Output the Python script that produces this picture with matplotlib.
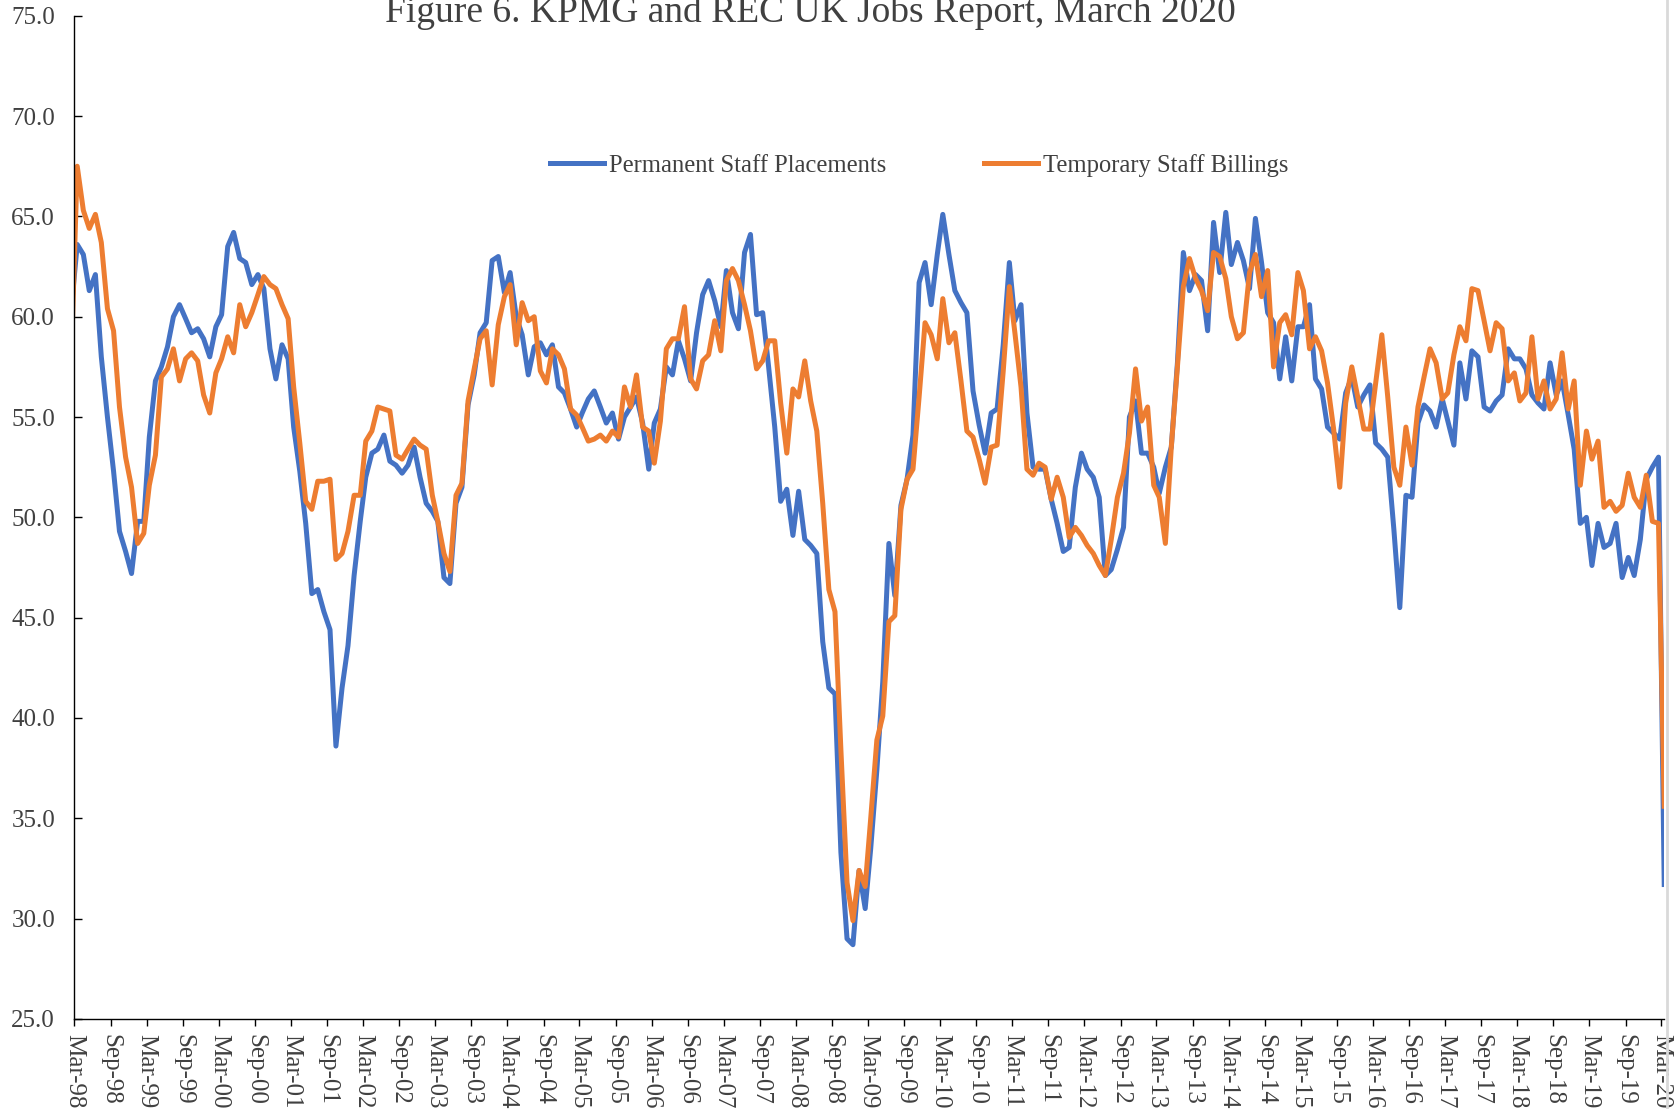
import matplotlib
matplotlib.use("Agg")
import matplotlib.pyplot as plt
from matplotlib.lines import Line2D
import pandas as pd

# monthly index readings, Feb-98 .. Mar-20 (first point falls just left of the axis)
first_month = "1998-02-01"

permanent = [
    60.6,
    63.6, 63.1, 61.3, 62.1, 58.0, 55.0, 52.3, 49.3, 48.3, 47.2, 49.8, 49.8,   # 1998-99
    54.0, 56.8, 57.5, 58.5, 60.0, 60.6, 59.9, 59.2, 59.4, 58.9, 58.0, 59.5,
    60.1, 63.5, 64.2, 62.9, 62.7, 61.6, 62.1, 61.4, 58.4, 56.9, 58.6, 57.9,
    54.5, 52.3, 49.7, 46.2, 46.4, 45.3, 44.4, 38.6, 41.5, 43.6, 47.1, 49.8,
    52.0, 53.2, 53.4, 54.1, 52.8, 52.6, 52.2, 52.6, 53.5, 52.0, 50.7, 50.3,
    49.8, 47.0, 46.7, 50.7, 51.5, 55.6, 57.1, 59.2, 59.7, 62.8, 63.0, 61.2,
    62.2, 60.0, 59.1, 57.1, 58.5, 58.7, 58.1, 58.6, 56.5, 56.2, 55.4, 54.5,
    55.2, 55.9, 56.3, 55.5, 54.7, 55.2, 53.9, 55.0, 55.5, 56.0, 54.7, 52.4,
    54.7, 55.4, 57.5, 57.1, 58.8, 57.9, 56.8, 59.2, 61.1, 61.8, 60.8, 59.5,
    62.3, 60.2, 59.4, 63.2, 64.1, 60.1, 60.2, 57.5, 54.5, 50.8, 51.4, 49.1,
    51.3, 48.9, 48.6, 48.2, 43.8, 41.5, 41.2, 33.3, 29.0, 28.7, 32.4, 30.5,
    33.5, 37.4, 41.8, 48.7, 46.1, 50.6, 51.9, 54.1, 61.7, 62.7, 60.6, 63.1,
    65.1, 63.1, 61.3, 60.7, 60.2, 56.3, 54.6, 53.2, 55.2, 55.4, 58.6, 62.7,
    59.8, 60.6, 55.2, 52.5, 52.4, 52.4, 50.9, 49.7, 48.3, 48.5, 51.5, 53.2,
    52.4, 52.0, 51.0, 47.1, 47.4, 48.4, 49.5, 55.0, 55.8, 53.2, 53.2, 52.5,
    51.2, 52.5, 53.5, 57.7, 63.2, 61.3, 62.1, 61.8, 59.3, 64.7, 62.2, 65.2,
    62.6, 63.7, 62.8, 61.4, 64.9, 62.7, 60.2, 59.7, 56.9, 59.0, 56.8, 59.5,
    59.5, 60.6, 56.9, 56.4, 54.5, 54.2, 53.9, 56.2, 57.0, 55.5, 56.1, 56.6,
    53.7, 53.4, 53.0, 49.4, 45.5, 51.1, 51.0, 54.7, 55.6, 55.3, 54.5, 55.9,
    54.8, 53.6, 57.7, 55.9, 58.3, 58.0, 55.5, 55.3, 55.8, 56.1, 58.4, 57.9,
    57.9, 57.4, 56.1, 55.7, 55.4, 57.7, 56.1, 56.8, 55.1, 53.4, 49.7, 50.0,
    47.6, 49.7, 48.5, 48.7, 49.7, 47.0, 48.0, 47.1, 48.9, 51.9, 52.5, 53.0,
    31.7,
]

temporary = [
    58.5,
    67.5, 65.3, 64.4, 65.1, 63.7, 60.4, 59.3, 55.5, 53.0, 51.5, 48.7, 49.2,
    51.6, 53.1, 57.0, 57.4, 58.4, 56.8, 57.9, 58.2, 57.8, 56.1, 55.2, 57.2,
    57.9, 59.0, 58.2, 60.6, 59.5, 60.2, 61.1, 62.0, 61.6, 61.4, 60.6, 59.9,
    56.5, 53.7, 50.8, 50.4, 51.8, 51.8, 51.9, 47.9, 48.2, 49.3, 51.1, 51.1,
    53.8, 54.3, 55.5, 55.4, 55.3, 53.1, 52.9, 53.4, 53.9, 53.6, 53.4, 51.1,
    49.8, 48.2, 47.3, 51.1, 51.7, 55.8, 57.4, 58.9, 59.3, 56.6, 59.6, 61.0,
    61.6, 58.6, 60.7, 59.8, 60.0, 57.3, 56.7, 58.4, 58.1, 57.4, 55.4, 55.1,
    54.5, 53.8, 53.9, 54.1, 53.8, 54.3, 54.0, 56.5, 55.5, 57.1, 54.5, 54.3,
    52.7, 54.8, 58.4, 58.9, 58.9, 60.5, 56.9, 56.4, 57.8, 58.1, 59.8, 58.3,
    61.8, 62.4, 61.8, 60.6, 59.3, 57.4, 57.8, 58.8, 58.8, 55.7, 53.2, 56.4,
    56.0, 57.8, 55.8, 54.3, 50.7, 46.4, 45.3, 38.4, 31.8, 29.9, 32.4, 31.6,
    35.0, 38.9, 40.1, 44.8, 45.1, 50.4, 51.9, 52.4, 56.0, 59.7, 59.1, 57.9,
    60.9, 58.7, 59.2, 56.8, 54.3, 54.0, 52.9, 51.7, 53.5, 53.6, 57.3, 61.5,
    59.2, 56.5, 52.4, 52.1, 52.7, 52.5, 50.9, 52.0, 51.0, 49.0, 49.5, 49.1,
    48.6, 48.2, 47.6, 47.1, 48.9, 51.0, 52.2, 54.2, 57.4, 54.8, 55.5, 51.6,
    51.0, 48.7, 53.5, 57.5, 61.5, 62.9, 61.9, 61.3, 60.3, 63.2, 63.0, 61.9,
    60.0, 58.9, 59.2, 62.2, 63.1, 61.0, 62.3, 57.5, 59.7, 60.1, 59.1, 62.2,
    61.3, 58.4, 59.0, 58.3, 56.7, 54.4, 51.5, 55.7, 57.5, 56.0, 54.4, 54.4,
    56.7, 59.1, 56.0, 52.5, 51.6, 54.5, 52.6, 55.5, 57.0, 58.4, 57.7, 55.9,
    56.2, 58.1, 59.5, 58.8, 61.4, 61.3, 59.8, 58.3, 59.7, 59.4, 56.8, 57.2,
    55.8, 56.2, 59.0, 55.9, 56.8, 55.4, 55.9, 58.2, 55.4, 56.8, 51.6, 54.3,
    52.9, 53.8, 50.5, 50.8, 50.3, 50.6, 52.2, 51.0, 50.5, 52.1, 49.8, 49.7,
    35.6,
]

title = "Figure 6. KPMG and REC UK Jobs Report, March 2020"
series_names = ["Permanent Staff Placements", "Temporary Staff Billings"]
colors = ["#4472C4", "#ED7D31"]

# survey values are dated mid-month, ticks sit on the 1st
dates = pd.date_range(first_month, periods=len(permanent), freq="MS") + pd.Timedelta(days=14)
tick_dates = pd.date_range("1998-03-01", "2020-03-01", freq="6MS")

plt.rcParams["font.family"] = ["Liberation Serif", "DejaVu Serif"]
text_col = "#404040"

fig = plt.figure(figsize=(16.77, 11.09), dpi=100)
ax = fig.add_axes([0.0444, 0.0812, 0.9481, 0.9046])

for vals, name, c in zip([permanent, temporary], series_names, colors):
    ax.plot(dates, vals, color=c, lw=3.6, label=name, solid_joinstyle="round")

ax.set_xlim(pd.Timestamp("1998-03-01"), pd.Timestamp("2020-03-16"))
ax.set_ylim(25, 75)
ax.set_yticks(range(25, 76, 5))
ax.set_yticklabels([f"{v:.1f}" for v in range(25, 76, 5)])
ax.set_xticks(tick_dates)
ax.set_xticklabels([d.strftime("%b-%y") for d in tick_dates], rotation=-90)

ax.tick_params(axis="y", direction="in", length=6, width=1, pad=14,
               labelsize=18, labelcolor=text_col)
ax.tick_params(axis="x", direction="out", length=5, width=1, pad=6,
               labelsize=18, labelcolor=text_col)
ax.spines["top"].set_visible(False)
ax.spines["right"].set_visible(False)
for s in ["left", "bottom"]:
    ax.spines[s].set_linewidth(1)
    ax.spines[s].set_color("black")

fig.text(0.483, 0.980, title, ha="center", va="baseline", fontsize=27, color=text_col)

fig.legend(loc="center", bbox_to_anchor=(0.548, 0.851), ncol=2, frameon=False,
           fontsize=17.7, labelcolor=text_col, handlelength=2.2, handletextpad=0.2,
           columnspacing=4.0, borderpad=0)

# thin grey edge on the right of the original screenshot
fig.add_artist(Line2D([0.9943, 0.9943], [0, 1], transform=fig.transFigure,
                      color="#d9d9d9", lw=2))

fig.savefig("out.png", dpi=100)
